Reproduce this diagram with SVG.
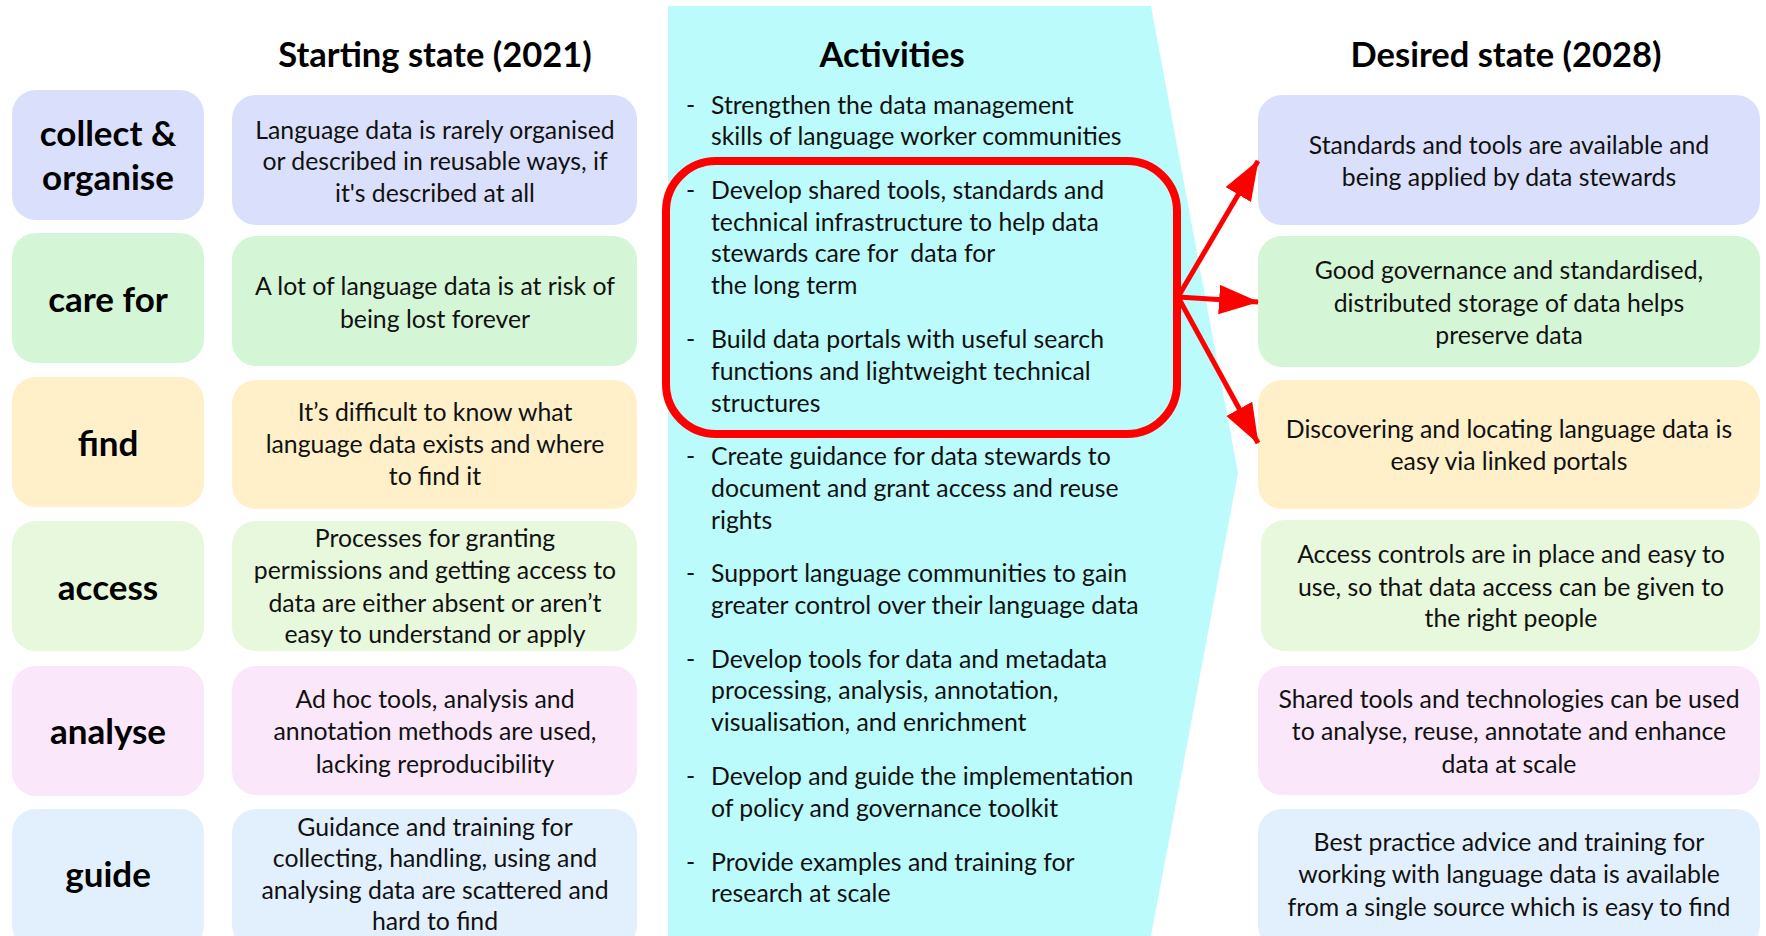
<svg xmlns="http://www.w3.org/2000/svg" width="1766" height="936" viewBox="0 0 1766 936">
<defs>
<style>
.t{font-family:Lato,"Open Sans","Liberation Sans",sans-serif;font-size:24.8px;fill:#111;}
.c{text-anchor:middle;}
.h{font-family:Lato,"Open Sans","Liberation Sans",sans-serif;font-size:34.5px;font-weight:bold;fill:#000;text-anchor:middle;}
.l{font-family:Lato,"Open Sans","Liberation Sans",sans-serif;font-size:35px;font-weight:bold;fill:#000;text-anchor:middle;}
.b1{fill:#DAE0FB;} .b2{fill:#D5F6D6;} .b3{fill:#FFF0CA;} .b4{fill:#E7F8DC;} .b5{fill:#FAE7FA;} .b6{fill:#E2F0FD;}
.arr{stroke:#FF0000;stroke-width:5;fill:none;marker-end:url(#ah);}
</style>
<marker id="ah" markerUnits="userSpaceOnUse" markerWidth="40" markerHeight="30" viewBox="0 0 38 28" refX="37" refY="14" orient="auto">
<path d="M0,0 L38,14 L0,28 Z" fill="#FF0000"/>
</marker>
</defs>
<rect width="1766" height="936" fill="#fff"/>
<polygon id="activities-bg" points="668,6 1151,6 1238,473 1151,936 668,936" fill="#BBFBFB"/>

<text class="h" x="435" y="67">Starting state (2021)</text>
<text class="h" x="892" y="67">Activities</text>
<text class="h" x="1506" y="67">Desired state (2028)</text>

<g id="label-collect"><rect class="b1" x="12" y="90" width="192" height="130" rx="24"/><text class="l" x="108" y="146">collect &amp;</text><text class="l" x="108" y="190">organise</text></g>
<g id="label-care"><rect class="b2" x="12" y="233" width="192" height="130" rx="24"/><text class="l" x="108" y="312">care for</text></g>
<g id="label-find"><rect class="b3" x="12" y="377" width="192" height="130" rx="24"/><text class="l" x="108" y="456">find</text></g>
<g id="label-access"><rect class="b4" x="12" y="521" width="192" height="130" rx="24"/><text class="l" x="108" y="600">access</text></g>
<g id="label-analyse"><rect class="b5" x="12" y="666" width="192" height="130" rx="24"/><text class="l" x="108" y="744">analyse</text></g>
<g id="label-guide"><rect class="b6" x="12" y="809" width="192" height="140" rx="24"/><text class="l" x="108" y="887">guide</text></g>

<g id="start-collect"><rect class="b1" x="232" y="95" width="405" height="130" rx="24"/><text class="t c" x="435" y="139">Language data is rarely organised</text><text class="t c" x="435" y="170">or described in reusable ways, if</text><text class="t c" x="435" y="202">it's described at all</text></g>
<g id="start-care"><rect class="b2" x="232" y="236" width="405" height="130" rx="24"/><text class="t c" x="435" y="295">A lot of language data is at risk of</text><text class="t c" x="435" y="328">being lost forever</text></g>
<g id="start-find"><rect class="b3" x="232" y="380" width="405" height="129" rx="24"/><text class="t c" x="435" y="421">It’s difficult to know what</text><text class="t c" x="435" y="453">language data exists and where</text><text class="t c" x="435" y="485">to find it</text></g>
<g id="start-access"><rect class="b4" x="232" y="521" width="405" height="130" rx="24"/><text class="t c" x="435" y="547">Processes for granting</text><text class="t c" x="435" y="579">permissions and getting access to</text><text class="t c" x="435" y="612">data are either absent or aren’t</text><text class="t c" x="435" y="643">easy to understand or apply</text></g>
<g id="start-analyse"><rect class="b5" x="232" y="666" width="405" height="129" rx="24"/><text class="t c" x="435" y="708">Ad hoc tools, analysis and</text><text class="t c" x="435" y="740">annotation methods are used,</text><text class="t c" x="435" y="773">lacking reproducibility</text></g>
<g id="start-guide"><rect class="b6" x="232" y="809" width="405" height="140" rx="24"/><text class="t c" x="435" y="836">Guidance and training for</text><text class="t c" x="435" y="867">collecting, handling, using and</text><text class="t c" x="435" y="899">analysing data are scattered and</text><text class="t c" x="435" y="930">hard to find</text></g>

<g id="activities">
<text class="t"><tspan x="686" y="114">-</tspan><tspan x="711" y="114">Strengthen the data management</tspan><tspan x="711" y="145">skills of language worker communities</tspan></text>
<text class="t" xml:space="preserve"><tspan x="686" y="199">-</tspan><tspan x="711" y="199">Develop shared tools, standards and</tspan><tspan x="711" y="231">technical infrastructure to help data</tspan><tspan x="711" y="262">stewards care for  data for</tspan><tspan x="711" y="294">the long term</tspan></text>
<text class="t"><tspan x="686" y="348">-</tspan><tspan x="711" y="348">Build data portals with useful search</tspan><tspan x="711" y="380">functions and lightweight technical</tspan><tspan x="711" y="412">structures</tspan></text>
<text class="t"><tspan x="686" y="465">-</tspan><tspan x="711" y="465">Create guidance for data stewards to</tspan><tspan x="711" y="497">document and grant access and reuse</tspan><tspan x="711" y="529">rights</tspan></text>
<text class="t"><tspan x="686" y="582">-</tspan><tspan x="711" y="582">Support language communities to gain</tspan><tspan x="711" y="614">greater control over their language data</tspan></text>
<text class="t"><tspan x="686" y="668">-</tspan><tspan x="711" y="668">Develop tools for data and metadata</tspan><tspan x="711" y="699">processing, analysis, annotation,</tspan><tspan x="711" y="731">visualisation, and enrichment</tspan></text>
<text class="t"><tspan x="686" y="785">-</tspan><tspan x="711" y="785">Develop and guide the implementation</tspan><tspan x="711" y="817">of policy and governance toolkit</tspan></text>
<text class="t"><tspan x="686" y="871">-</tspan><tspan x="711" y="871">Provide examples and training for</tspan><tspan x="711" y="902">research at scale</tspan></text>
</g>

<g id="highlight"><rect x="666" y="161" width="511" height="273" rx="50" fill="none" stroke="#FF0000" stroke-width="8"/></g>

<g id="desired-collect"><rect class="b1" x="1258" y="95" width="502" height="130" rx="24"/><text class="t c" x="1509" y="154">Standards and tools are available and</text><text class="t c" x="1509" y="186">being applied by data stewards</text></g>
<g id="desired-care"><rect class="b2" x="1258" y="236" width="502" height="131" rx="24"/><text class="t c" x="1509" y="279">Good governance and standardised,</text><text class="t c" x="1509" y="312">distributed storage of data helps</text><text class="t c" x="1509" y="344">preserve data</text></g>
<g id="desired-find"><rect class="b3" x="1258" y="380" width="502" height="129" rx="24"/><text class="t c" x="1509" y="438">Discovering and locating language data is</text><text class="t c" x="1509" y="470">easy via linked portals</text></g>
<g id="desired-access"><rect class="b4" x="1261" y="520" width="499" height="131" rx="24"/><text class="t c" x="1511" y="563">Access controls are in place and easy to</text><text class="t c" x="1511" y="596">use, so that data access can be given to</text><text class="t c" x="1511" y="627">the right people</text></g>
<g id="desired-analyse"><rect class="b5" x="1258" y="666" width="502" height="129" rx="24"/><text class="t c" x="1509" y="708">Shared tools and technologies can be used</text><text class="t c" x="1509" y="740">to analyse, reuse, annotate and enhance</text><text class="t c" x="1509" y="773">data at scale</text></g>
<g id="desired-guide"><rect class="b6" x="1258" y="809" width="502" height="140" rx="24"/><text class="t c" x="1509" y="851">Best practice advice and training for</text><text class="t c" x="1509" y="883">working with language data is available</text><text class="t c" x="1509" y="916">from a single source which is easy to find</text></g>

<g id="connectors">
<line class="arr" x1="1178" y1="297" x2="1258" y2="161"/>
<line class="arr" x1="1178" y1="297" x2="1258" y2="302"/>
<line class="arr" x1="1178" y1="297" x2="1258" y2="443"/>
</g>
</svg>
